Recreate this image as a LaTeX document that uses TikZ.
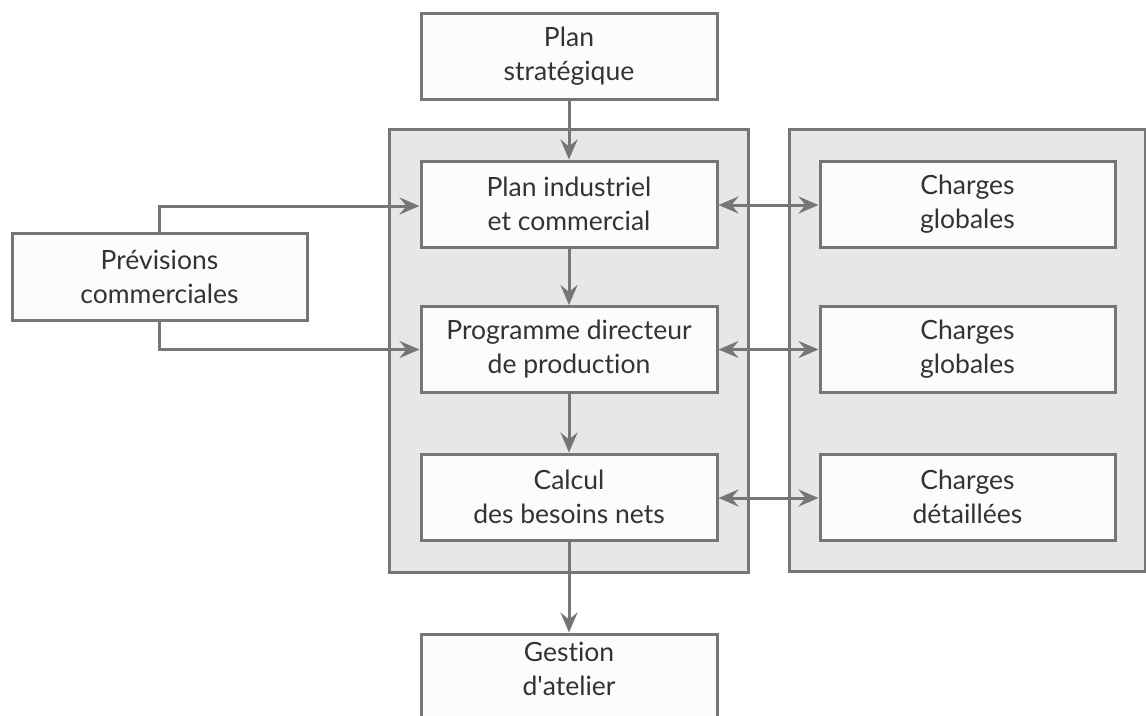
\documentclass[tikz,border=0pt]{standalone}
\usepackage{fontspec}
\setmainfont{Lato}[Ligatures={NoCommon}]
\usetikzlibrary{arrows.meta}
\definecolor{linegray}{HTML}{767676}
\definecolor{panelgray}{HTML}{E7E7E7}
\definecolor{boxfill}{HTML}{FDFCFB}
\definecolor{txt}{HTML}{333333}
\begin{document}
\begin{tikzpicture}[x=1pt,y=-1pt,
  box/.style={draw=linegray, line width=3pt, fill=boxfill, minimum width=296pt, minimum height=86pt, inner sep=0pt,
    align=center, font=\fontsize{26.5}{34}\selectfont, text=txt},
  panel/.style={draw=linegray, line width=3pt, fill=panelgray, inner sep=0pt},
  tip/.style={Stealth[length=20pt,width=17pt,inset=7pt]},
  conn/.style={draw=linegray, line width=3pt, -{Stealth[length=20pt,width=17pt,inset=7pt]}},
  biconn/.style={draw=linegray, line width=3pt, {Stealth[length=20pt,width=17pt,inset=7pt]}-{Stealth[length=20pt,width=17pt,inset=7pt]}}]
\clip (0,0) rectangle (1146,715);
% panels
\node[panel, minimum width=359pt, minimum height=443pt] (panelL) at (568.5,350.5) {};
\node[panel, minimum width=356pt, minimum height=442pt] (panelR) at (967,350) {};
% boxes
\node[box] (ps) at (569,56) {Plan\\strat\'egique};
\node[box] (pi) at (569,204) {Plan industriel\\et commercial};
\node[box] (pdp) at (569,349.5) {Programme directeur\\de production};
\node[box] (calc) at (569,497) {Calcul\\des besoins nets};
\node[box, minimum height=140pt] (ga) at (569,704) {};
\node[font=\fontsize{26.5}{34}\selectfont, text=txt, align=center, anchor=north] (gatext) at (569,639) {Gestion\\d\textquotesingle atelier};
\node[box, minimum width=295pt] (cg1) at (967.5,204) {Charges\\globales};
\node[box, minimum width=295pt] (cg2) at (967.5,349.5) {Charges\\globales};
\node[box, minimum width=295pt] (cd) at (967.5,497) {Charges\\d\'etaill\'ees};
\node[box, minimum width=295pt, minimum height=87pt] (prev) at (159.5,276.5) {Pr\'evisions\\commerciales};
% connectors
\draw[conn] (ps.south) -- (pi.north);
\draw[conn] (pi.south) -- (pdp.north);
\draw[conn] (pdp.south) -- (calc.north);
\draw[conn] (calc.south) -- (ga.north);
\draw[conn] (prev.north) |- ([yshift=-2pt]pi.west);
\draw[conn] (prev.south) |- (pdp.west);
\draw[biconn] ([yshift=-1pt]pi.east) -- ([yshift=-1pt]cg1.west);
\draw[biconn] (pdp.east) -- (cg2.west);
\draw[biconn] ([yshift=-1pt]calc.east) -- ([yshift=-1pt]cd.west);
\end{tikzpicture}
\end{document}
